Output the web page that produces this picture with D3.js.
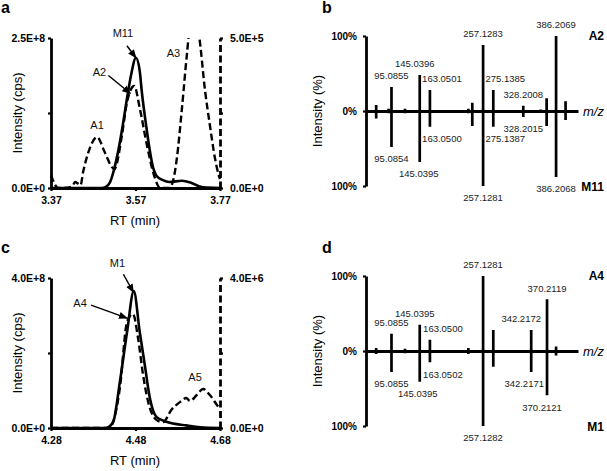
<!DOCTYPE html>
<html>
<head>
<meta charset="utf-8">
<script src="https://cdn.jsdelivr.net/npm/d3@7"></script>
<style>
  body { margin: 0; background: #fff; }
  svg { display: block; font-family: "Liberation Sans", Arial, sans-serif; }
</style>
</head>
<body>
<svg width="607" height="471"></svg>
<script>
// ---- chromatogram a: M11 (left axis, x1e8) and analog trace (right axis, x1e5)
var rtM11 = [3.37, 3.49, 3.50, 3.51, 3.52, 3.53, 3.54, 3.55, 3.56, 3.571, 3.58, 3.585, 3.595, 3.60, 3.612, 3.62, 3.635, 3.65, 3.68, 3.70, 3.72, 3.73, 3.77];
var m11 = [0, 0, 0.02, 0.1, 0.33, 0.65, 1.05, 1.5, 1.9, 2.17, 1.95, 1.6, 1.05, 0.8, 0.33, 0.2, 0.13, 0.1, 0.12, 0.09, 0.03, 0.01, 0];
var rtAnalogA = [3.37, 3.387, 3.40, 3.42, 3.427, 3.44, 3.446, 3.462, 3.479, 3.497, 3.514, 3.52, 3.538, 3.55, 3.567, 3.58, 3.597, 3.616, 3.628, 3.65, 3.656, 3.668, 3.68, 3.692, 3.70, 3.71, 3.72, 3.735, 3.746, 3.758, 3.767, 3.77];
var analogA = [0.43, 0, 0, 0.05, 0.2, 0.1, 0.53, 1.33, 1.7, 1.2, 0.7, 0.63, 1.77, 2.87, 3.4, 2.67, 1.43, 0.33, 0, 0, 0.1, 1.0, 2.67, 4.5, 5.5, 5.6, 5.1, 3.2, 2.1, 1.0, 0.43, 0.3];
var xTicksA = [3.37, 3.57, 3.77];
var leftTicksA = ['0.0E+0', '', '2.5E+8'];
var rightTicksA = ['0.0E+0', '', '5.0E+5'];

// ---- chromatogram c: M1 (left, x1e8) and analog trace (right, x1e6)
var rtM1 = [4.28, 4.41, 4.427, 4.443, 4.46, 4.476, 4.49, 4.502, 4.514, 4.53, 4.555, 4.60, 4.633, 4.68];
var m1 = [0, 0, 0.16, 1.23, 2.56, 3.65, 2.56, 1.68, 0.8, 0.29, 0.16, 0.07, 0.02, 0];
var rtAnalogC = [4.28, 4.42, 4.424, 4.443, 4.46, 4.474, 4.486, 4.498, 4.514, 4.533, 4.545, 4.566, 4.585, 4.60, 4.609, 4.625, 4.64, 4.656, 4.673, 4.68];
var analogC = [0, 0, 0.07, 1.07, 2.83, 3.04, 2.4, 1.41, 0.53, 0.19, 0.16, 0.5, 0.69, 0.8, 0.72, 0.88, 1.04, 0.88, 0.61, 0.5];
var xTicksC = [4.28, 4.48, 4.68];
var leftTicksC = ['0.0E+0', '', '4.0E+8'];
var rightTicksC = ['0.0E+0', '', '4.0E+6'];

// ---- mirror spectra b (A2 up / M11 down) and d (A4 up / M1 down), % intensity
var mzB = [68, 90, 95.0855, 119, 145.0396, 163.0501, 231, 238, 257.1283, 275.1385, 328.2008, 359, 369.5, 386.2069, 403];
var upB = [8, 3, 32, 3, 48, 28, 3, 11, 88, 28, 7, 2, 17, 100, 13];
var downB = [10, 3, 48, 3, 68, 21, 3, 20, 100, 21, 8, 2, 20, 88, 12];
var labUpB = ['95.0855', '145.0396', '163.0501', '257.1283', '275.1385', '328.2008', '386.2069'];
var labDownB = ['95.0854', '145.0395', '163.0500', '257.1281', '275.1387', '328.2015', '386.2068'];

var mzD = [68, 95.0855, 119, 145.0395, 163.0500, 231, 257.1281, 275.1385, 342.2172, 370.2119, 386.2];
var upD = [4, 23, 3, 35, 15, 4, 100, 28, 28, 69, 6];
var downD = [4, 28, 3, 41, 15, 4, 100, 21, 28, 59, 6];
var labUpD = ['95.0855', '145.0395', '163.0500', '257.1281', '342.2172', '370.2119'];
var labDownD = ['95.0855', '145.0395', '163.0502', '257.1282', '342.2171', '370.2121'];

// sideways nudges for the spectrum labels (px)
var nudgeUpB = [0, -5, 12, 0, 12, 0, 0];
var nudgeDownB = [0, -1, 12, 0, 12, 0, 0];
var nudgeUpD = [0, -5, 13, 0, -10, 0];
var nudgeDownD = [0, -2, 13, 0, -7, -5];

var svg = d3.select('svg');

function styleAxis(g, bold) {
    g.selectAll('.domain').attr('stroke', '#000').attr('stroke-width', 2.8);
    g.selectAll('.tick line').attr('stroke', '#000').attr('stroke-width', 2.2);
    g.selectAll('.tick text')
        .attr('fill', '#000')
        .style('font-size', '10.5px')
        .style('font-weight', bold ? 'bold' : 'normal')
        .style('font-family', '"Liberation Sans", Arial, sans-serif');
}

function chromatogram(top, letter, rtDom, xTicks, leftMax, leftTicks, rightMax, rightTicks,
                      rtSolid, solid, solidUnit, rtDash, dash, dashUnit, notes) {
    var x = d3.scaleLinear().domain(rtDom).range([51, 220]);
    var yL = d3.scaleLinear().domain([0, leftMax]).range([top + 150, top]);
    var yR = d3.scaleLinear().domain([0, rightMax]).range([top + 150, top]);

    var clipId = 'clip' + letter;
    svg.append('clipPath').attr('id', clipId)
        .append('rect').attr('x', 50).attr('y', top).attr('width', 172).attr('height', 151);

    var plot = svg.append('g').attr('clip-path', 'url(#' + clipId + ')');

    plot.append('path')
        .datum(rtDash.map(function(d, i) { return [d, dash[i] * dashUnit]; }))
        .attr('fill', 'none')
        .attr('stroke', '#000')
        .attr('stroke-width', 2.4)
        .attr('stroke-dasharray', '7,3.5')
        .attr('d', d3.line().curve(d3.curveMonotoneX)
            .x(function(d) { return x(d[0]); })
            .y(function(d) { return yR(d[1]); }));

    plot.append('path')
        .datum(rtSolid.map(function(d, i) { return [d, solid[i] * solidUnit]; }))
        .attr('fill', 'none')
        .attr('stroke', '#000')
        .attr('stroke-width', 2.6)
        .attr('d', d3.line().curve(d3.curveMonotoneX)
            .x(function(d) { return x(d[0]); })
            .y(function(d) { return yL(d[1]); }));

    var gx = svg.append('g').attr('transform', 'translate(0,' + (top + 150) + ')')
        .call(d3.axisBottom(x).tickValues(xTicks).tickFormat(d3.format('.2f'))
            .tickSize(3).tickSizeOuter(0).tickPadding(6));
    styleAxis(gx, true);

    var gl = svg.append('g').attr('transform', 'translate(51,0)')
        .call(d3.axisLeft(yL).tickValues([0, leftMax / 2, leftMax])
            .tickFormat(function(d, i) { return leftTicks[i]; })
            .tickSize(3).tickSizeOuter(0).tickPadding(3));
    styleAxis(gl, true);

    var gr = svg.append('g').attr('transform', 'translate(220,0)')
        .call(d3.axisRight(yR).tickValues([0, rightMax / 2, rightMax])
            .tickFormat(function(d, i) { return rightTicks[i]; })
            .tickSize(3).tickSizeOuter(0).tickPadding(7));
    styleAxis(gr, true);
    gr.select('.domain').attr('stroke-dasharray', '7,3.5');

    svg.append('text')
        .attr('x', 135).attr('y', top + 187)
        .attr('text-anchor', 'middle')
        .style('font-size', '13px')
        .text('RT (min)');

    svg.append('text')
        .attr('transform', 'translate(22,' + (top + 75) + ') rotate(-90)')
        .attr('text-anchor', 'middle')
        .style('font-size', '13px')
        .text('Intensity (cps)');

    svg.append('text')
        .attr('x', 1).attr('y', top - 25)
        .style('font-size', '16px').style('font-weight', 'bold')
        .text(letter);

    // peak annotations: [text, rt, value, onRightAxis, textDx, textDy, arrowDx, arrowDy]
    notes.forEach(function(n) {
        var px = x(n[1]);
        var py = n[3] ? yR(n[2]) : yL(n[2]);
        svg.append('text')
            .attr('x', px + n[4]).attr('y', py + n[5]).attr('dy', '0.35em')
            .attr('text-anchor', 'middle')
            .attr('fill', '#111')
            .style('font-size', '11px')
            .text(n[0]);
        if (n[6] !== null) {
            svg.append('line')
                .attr('x1', px + n[6]).attr('y1', py + n[7])
                .attr('x2', px).attr('y2', py)
                .attr('stroke', '#000').attr('stroke-width', 1.5)
                .attr('marker-end', 'url(#arrow)');
        }
    });
}

svg.append('defs').append('marker')
    .attr('id', 'arrow')
    .attr('viewBox', '0 0 10 10')
    .attr('refX', 9).attr('refY', 5)
    .attr('markerWidth', 6).attr('markerHeight', 6)
    .attr('orient', 'auto')
    .append('path').attr('d', 'M0,1L10,5L0,9Z').attr('fill', '#000');

chromatogram(38, 'a', [3.37, 3.77], xTicksA, 2.5e8, leftTicksA, 5e5, rightTicksA,
    rtM11, m11, 1e8, rtAnalogA, analogA, 1e5,
    [['M11', 3.571, 2.17e8, false, -13, -25, -9, -12],
     ['A2', 3.558, 3.15e5, true, -31, -21, -22, -18],
     ['A1', 3.479, 1.7e5, true, 0, -12, null, null],
     ['A3', 3.66, 5e5, true, 0, 15, null, null]]);

chromatogram(278, 'c', [4.28, 4.68], xTicksC, 4e8, leftTicksC, 4e6, rightTicksC,
    rtM1, m1, 1e8, rtAnalogC, analogC, 1e6,
    [['M1', 4.475, 3.62e8, false, -16, -29, -10, -18],
     ['A4', 4.46, 2.93e6, true, -47, -15, -36, -13],
     ['A5', 4.64, 1.04e6, true, -8, -12, null, null]]);

function spectrum(top, letter, mz, up, down, labUp, labDown, nudgeUp, nudgeDown, nameUp, nameDown) {
    var x = d3.scaleLinear().domain([50, 425]).range([366, 578]);
    var y = d3.scaleLinear().domain([-100, 100]).range([top + 150, top]);

    function peakIndex(label) {
        var v = parseFloat(label), bi = 0;
        mz.forEach(function(m, i) { if (Math.abs(m - v) < Math.abs(mz[bi] - v)) bi = i; });
        return bi;
    }

    var gx = svg.append('g').attr('transform', 'translate(0,' + y(0) + ')')
        .call(d3.axisBottom(x).tickValues([]).tickSizeOuter(0));
    styleAxis(gx, true);
    gx.select('.domain').attr('stroke-width', 3);

    svg.selectAll('.barUp' + letter)
        .data(mz).enter()
        .append('line')
        .attr('x1', function(d) { return x(d); })
        .attr('x2', function(d) { return x(d); })
        .attr('y1', y(0))
        .attr('y2', function(d, i) { return y(up[i]); })
        .attr('stroke', '#000')
        .attr('stroke-width', 2.7);

    svg.selectAll('.barDown' + letter)
        .data(mz).enter()
        .append('line')
        .attr('x1', function(d) { return x(d); })
        .attr('x2', function(d) { return x(d); })
        .attr('y1', y(0))
        .attr('y2', function(d, i) { return y(-down[i]); })
        .attr('stroke', '#000')
        .attr('stroke-width', 2.7);

    var gy = svg.append('g').attr('transform', 'translate(366,0)')
        .call(d3.axisLeft(y).tickValues([-100, 0, 100])
            .tickFormat(function(d) { return Math.abs(d) + '%'; })
            .tickSize(3).tickSizeOuter(0).tickPadding(6));
    styleAxis(gy, true);
    gy.selectAll('.tick text').style('font-size', '10px');

    labUp.forEach(function(t, i) {
        var k = peakIndex(t);
        svg.append('text')
            .attr('x', x(mz[k]) + nudgeUp[i])
            .attr('y', y(up[k]) - 11)
            .attr('dy', '0.35em')
            .attr('text-anchor', 'middle')
            .attr('fill', '#222')
            .style('font-size', '9.5px')
            .text(t);
    });
    labDown.forEach(function(t, i) {
        var k = peakIndex(t);
        svg.append('text')
            .attr('x', x(mz[k]) + nudgeDown[i])
            .attr('y', y(-down[k]) + 12)
            .attr('dy', '0.35em')
            .attr('text-anchor', 'middle')
            .attr('fill', '#222')
            .style('font-size', '9.5px')
            .text(t);
    });

    svg.append('text')
        .attr('x', 583).attr('y', y(0)).attr('dy', '0.35em')
        .style('font-size', '13px').style('font-style', 'italic')
        .text('m/z');

    svg.append('text')
        .attr('x', 604).attr('y', top).attr('dy', '0.35em')
        .attr('text-anchor', 'end')
        .style('font-size', '12px').style('font-weight', 'bold')
        .text(nameUp);
    svg.append('text')
        .attr('x', 604).attr('y', top + 151).attr('dy', '0.35em')
        .attr('text-anchor', 'end')
        .style('font-size', '12px').style('font-weight', 'bold')
        .text(nameDown);

    svg.append('text')
        .attr('transform', 'translate(322,' + (top + 75) + ') rotate(-90)')
        .attr('text-anchor', 'middle')
        .style('font-size', '13px')
        .text('Intensity (%)');

    svg.append('text')
        .attr('x', 322).attr('y', top - 23)
        .style('font-size', '16px').style('font-weight', 'bold')
        .text(letter);
}

spectrum(36, 'b', mzB, upB, downB, labUpB, labDownB, nudgeUpB, nudgeDownB, 'A2', 'M11');
spectrum(276, 'd', mzD, upD, downD, labUpD, labDownD, nudgeUpD, nudgeDownD, 'A4', 'M1');
</script>
</body>
</html>
